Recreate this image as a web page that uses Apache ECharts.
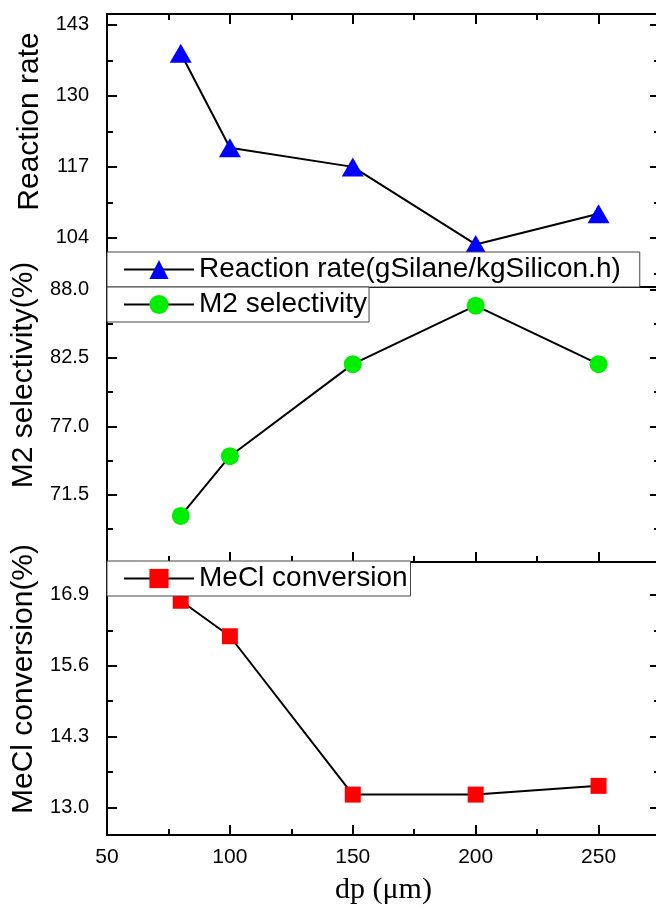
<!DOCTYPE html>
<html>
<head>
<meta charset="utf-8">
<script src="https://cdn.jsdelivr.net/npm/echarts@6/dist/echarts.min.js"></script>
<style>html,body{margin:0;padding:0;background:#fff}#c{width:656px;height:921px}</style>
</head>
<body>
<div id="c"></div>
<script>
// ---- data ----
const dp = [80, 100, 150, 200, 250];
const reactionRate = [137.8, 120.5, 117.0, 102.8, 108.4];
const m2Selectivity = [69.8, 74.6, 82.0, 86.7, 82.0];
const meclConversion = [16.79, 16.14, 13.24, 13.24, 13.40];

const xLabelValues = [50, 100, 150, 200, 250];
const rateTicks = [104, 117, 130, 143];
const rateMinor = [97.5, 110.5, 123.5, 136.5];
const m2Ticks = [71.5, 77.0, 82.5, 88.0];
const m2Minor = [68.75, 74.25, 79.75, 85.25];
const meclTicks = [13.0, 14.3, 15.6, 16.9];
const meclMinor = [13.65, 14.95, 16.25];

const seriesNames = ['Reaction rate(gSilane/kgSilicon.h)', 'M2 selectivity', 'MeCl conversion'];
const yNames = ['Reaction rate', 'M2 selectivity(%)', 'MeCl conversion(%)'];
const xName = 'dp (\u03bcm)';

// ---- layout ----
const FONT = 'Liberation Sans, Arial, sans-serif';
const L = 107, W = 553;
const grids = [
  {top: 14, height: 273},
  {top: 287, height: 275},
  {top: 562, height: 273}
];
const yRanges = [[95, 145], [66.1, 88.2], [12.5, 17.5]];

function pairs(ys) { return dp.map((x, i) => [x, ys[i]]); }

const AXLINE = {show: true, lineStyle: {color: '#000', width: 2}};

function xAxisFor(gi, pos, labels) {
  return {
    gridIndex: gi, type: 'value', min: 50, max: 275, interval: 50, position: pos,
    axisLine: AXLINE, splitLine: {show: false},
    axisTick: {show: true, inside: true, length: 10, lineStyle: {color: '#000', width: 2}},
    minorTick: {show: true, splitNumber: 2, length: 6, lineStyle: {color: '#000', width: 2}},
    axisLabel: labels ? {show: true, customValues: xLabelValues, fontSize: 21, color: '#000', fontFamily: FONT, margin: 12} : {show: false},
    name: labels ? xName : '', nameLocation: 'middle', nameGap: 40,
    nameTextStyle: {fontSize: 30, color: '#000', fontFamily: 'Liberation Serif, Times New Roman, serif'}
  };
}

function yAxesFor(gi, range, major, minor, dec, name, pad) {
  const base = {gridIndex: gi, type: 'value', min: range[0], max: range[1],
    axisLine: AXLINE, splitLine: {show: false}};
  const fmt = v => Number(v).toFixed(dec);
  return [
    Object.assign({}, base, {position: 'left',
      axisTick: {show: true, inside: true, length: 10, customValues: major, lineStyle: {color: '#000', width: 2}},
      axisLabel: {show: true, customValues: major, formatter: fmt, fontSize: 20, color: '#000', fontFamily: FONT, margin: 18},
      name: name, nameLocation: 'middle', nameGap: 62, nameRotate: 90,
      nameTextStyle: {fontSize: 30, color: '#000', fontFamily: FONT, padding: [0, 0, 0, pad]}}),
    Object.assign({}, base, {position: 'left',
      axisTick: {show: true, inside: true, length: 6, customValues: minor, lineStyle: {color: '#000', width: 2}},
      axisLabel: {show: false}}),
    Object.assign({}, base, {position: 'right',
      axisTick: {show: true, inside: true, length: 10, customValues: major, lineStyle: {color: '#000', width: 2}},
      axisLabel: {show: false}}),
    Object.assign({}, base, {position: 'right',
      axisTick: {show: true, inside: true, length: 6, customValues: minor, lineStyle: {color: '#000', width: 2}},
      axisLabel: {show: false}})
  ];
}

const yAxis = [].concat(
  yAxesFor(0, yRanges[0], rateTicks, rateMinor, 0, yNames[0], 58),
  yAxesFor(1, yRanges[1], m2Ticks, m2Minor, 1, yNames[1], 99),
  yAxesFor(2, yRanges[2], meclTicks, meclMinor, 1, yNames[2], 39)
);

const xAxis = [xAxisFor(0, 'top', false), xAxisFor(1, 'bottom', false), xAxisFor(2, 'bottom', true)];

function lineSeries(i, ys, symbol, size, color) {
  return {
    name: seriesNames[i], type: 'line', xAxisIndex: i, yAxisIndex: i * 4,
    data: pairs(ys), symbol: symbol, symbolSize: size,
    lineStyle: {color: '#000', width: 2},
    itemStyle: {color: color},
    emphasis: {disabled: true}, animation: false, z: 3
  };
}

function legendFor(i, top, padRight) {
  return {
    data: [seriesNames[i]], left: L, top: top, orient: 'horizontal',
    backgroundColor: '#fff', borderColor: '#444', borderWidth: 1,
    padding: [2, padRight, 2, 16], itemWidth: 70, itemHeight: 24,
    selectedMode: false,
    textStyle: {fontSize: 28, color: '#000', fontFamily: FONT, lineHeight: 31},
    z: 10
  };
}

const option = {
  backgroundColor: '#fff',
  animation: false,
  grid: grids.map(g => ({left: L, width: W, top: g.top, height: g.height, show: true,
    borderColor: '#000', borderWidth: 2, backgroundColor: 'transparent',
    containLabel: false, outerBoundsMode: 'none'})),
  xAxis: xAxis,
  yAxis: yAxis,
  legend: [legendFor(0, 252, 19), legendFor(1, 287, 2), legendFor(2, 561, 3)],
  series: [
    lineSeries(0, reactionRate, 'triangle', [22, 19], '#0000ff'),
    lineSeries(1, m2Selectivity, 'circle', 18, '#00ee00'),
    lineSeries(2, meclConversion, 'rect', 16, '#ff0000')
  ]
};

const chart = echarts.init(document.getElementById('c'), null, {renderer: 'canvas'});
chart.setOption(option);
</script>
</body>
</html>
